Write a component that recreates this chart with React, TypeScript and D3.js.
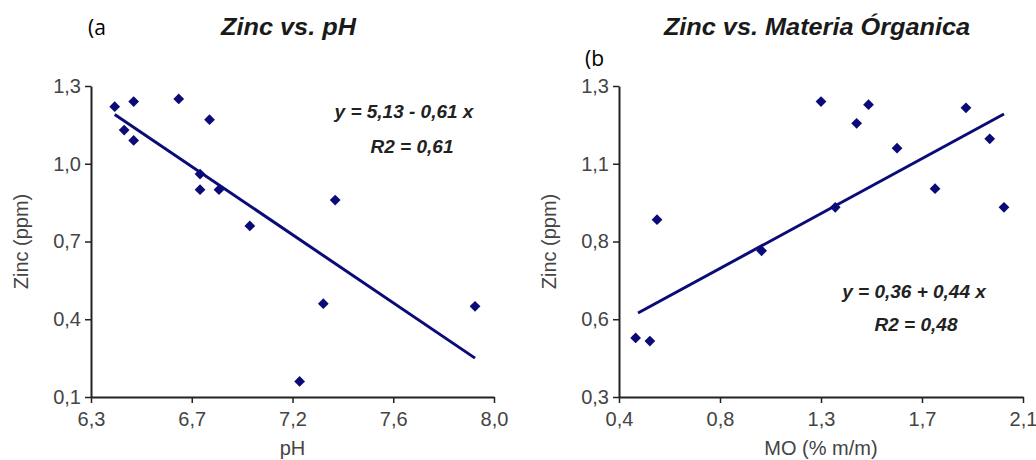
import React, { useEffect, useRef } from "react";
import * as d3 from "d3";

// panel (a): zinc vs pH
const phValues = [6.40, 6.48, 6.67, 6.80, 6.44, 6.48, 6.76, 6.76, 6.84, 6.97, 7.33, 7.28, 7.92, 7.18];
const zincByPh = [1.22, 1.24, 1.25, 1.17, 1.13, 1.09, 0.96, 0.90, 0.90, 0.76, 0.86, 0.46, 0.45, 0.16];
const phFitX = [6.40, 7.92];
const phFitY = [1.19, 0.25];
const phDomain = [6.3, 8.0];
const zincPhDomain = [0.1, 1.3];
const phTickLabels = ["6,3", "6,7", "7,2", "7,6", "8,0"];
const zincPhTickLabels = ["0,1", "0,4", "0,7", "1,0", "1,3"];

// panel (b): zinc vs materia organica
const moValues = [0.47, 0.53, 0.56, 1.00, 1.25, 1.31, 1.40, 1.45, 1.57, 1.73, 1.86, 1.96, 2.02];
const zincByMo = [0.49, 0.48, 0.87, 0.77, 1.25, 0.91, 1.18, 1.24, 1.10, 0.97, 1.23, 1.13, 0.91];
const moFitX = [0.48, 2.02];
const moFitY = [0.57, 1.21];
const moDomain = [0.4, 2.1];
const zincMoDomain = [0.3, 1.3];
const moTickLabels = ["0,4", "0,8", "1,3", "1,7", "2,1"];
const zincMoTickLabels = ["0,3", "0,6", "0,8", "1,1", "1,3"];

const NAVY = "#0b0b78";
const FONT = "'Liberation Sans', Arial, sans-serif";

const evenTicks = (dom: number[], n: number) =>
  d3.range(n).map(i => dom[0] + (i * (dom[1] - dom[0])) / (n - 1));

const App = () => {
  const ref = useRef<SVGSVGElement>(null);

  useEffect(() => {
    const svg = d3.select(ref.current);
    svg.selectAll("*").remove();

    const panels = [
      {
        xs: phValues, ys: zincByPh, fx: phFitX, fy: phFitY,
        xDom: phDomain, yDom: zincPhDomain,
        xLabels: phTickLabels, yLabels: zincPhTickLabels,
        xRange: [91, 494], yRange: [397, 86],
        xTitle: "pH", title: "Zinc vs. pH", tag: "(a", tagPos: [88, 35],
        eq: ["y = 5,13 - 0,61 x", "R2 = 0,61"], eqPos: [[404, 118], [412, 153]],
      },
      {
        xs: moValues, ys: zincByMo, fx: moFitX, fy: moFitY,
        xDom: moDomain, yDom: zincMoDomain,
        xLabels: moTickLabels, yLabels: zincMoTickLabels,
        xRange: [619, 1023], yRange: [397, 86],
        xTitle: "MO (% m/m)", title: "Zinc vs. Materia Órganica", tag: "(b", tagPos: [585, 66],
        eq: ["y = 0,36 + 0,44 x", "R2 = 0,48"], eqPos: [[914, 298], [916, 331]],
      },
    ];

    panels.forEach(p => {
      const x = d3.scaleLinear().domain(p.xDom).range(p.xRange);
      const y = d3.scaleLinear().domain(p.yDom).range(p.yRange);
      const g = svg.append("g");

      // axes
      const xAxis = g.append("g")
        .attr("transform", `translate(0,${p.yRange[0]})`)
        .call(d3.axisBottom(x)
          .tickValues(evenTicks(p.xDom, 5))
          .tickFormat((d, i) => p.xLabels[i])
          .tickSize(6).tickSizeOuter(0).tickPadding(9));
      const yAxis = g.append("g")
        .attr("transform", `translate(${p.xRange[0]},0)`)
        .call(d3.axisLeft(y)
          .tickValues(evenTicks(p.yDom, 5))
          .tickFormat((d, i) => p.yLabels[i])
          .tickSize(6).tickSizeOuter(0).tickPadding(4));
      [xAxis, yAxis].forEach(a => {
        a.select(".domain").attr("stroke", "#222").attr("stroke-width", 2);
        a.selectAll(".tick line").attr("stroke", "#222").attr("stroke-width", 1.5);
        a.selectAll(".tick text")
          .attr("fill", "#444")
          .style("font-family", FONT)
          .style("font-size", "20px");
      });

      // axis titles
      g.append("text")
        .attr("x", (p.xRange[0] + p.xRange[1]) / 2)
        .attr("y", 455)
        .attr("text-anchor", "middle")
        .attr("fill", "#444")
        .style("font-family", FONT)
        .style("font-size", "20px")
        .text(p.xTitle);
      g.append("text")
        .attr("transform", `translate(${p.xRange[0] - 63},${(p.yRange[0] + p.yRange[1]) / 2}) rotate(-90)`)
        .attr("text-anchor", "middle")
        .attr("fill", "#444")
        .style("font-family", FONT)
        .style("font-size", "20px")
        .text("Zinc (ppm)");

      // fit line
      g.append("path")
        .datum(d3.zip(p.fx, p.fy))
        .attr("d", d3.line().x(d => x(d[0])).y(d => y(d[1])))
        .attr("fill", "none")
        .attr("stroke", NAVY)
        .attr("stroke-width", 3);

      // points
      g.selectAll("path.pt")
        .data(d3.zip(p.xs, p.ys))
        .enter()
        .append("path")
        .attr("class", "pt")
        .attr("d", d3.symbol(d3.symbolSquare, 58))
        .attr("transform", d => `translate(${x(d[0])},${y(d[1])}) rotate(45)`)
        .attr("fill", NAVY);

      // title and tag
      const tb = (p.xRange[0] + p.xRange[1]) / 2;
      g.append("text")
        .attr("transform", `translate(${tb - 4},35) scale(1.1,1)`)
        .attr("text-anchor", "middle")
        .attr("fill", "#1a1a1a")
        .style("font-family", FONT)
        .style("font-size", "23px")
        .style("font-weight", "bold")
        .style("font-style", "italic")
        .text(p.title);
      g.append("text")
        .attr("x", p.tagPos[0])
        .attr("y", p.tagPos[1])
        .attr("fill", "#000")
        .style("font-family", "'Open Sans', sans-serif")
        .style("font-size", "21px")
        .text(p.tag);

      // regression equation
      p.eq.forEach((t, i) => {
        g.append("text")
          .attr("x", p.eqPos[i][0])
          .attr("y", p.eqPos[i][1])
          .attr("text-anchor", "middle")
          .attr("fill", "#222")
          .style("font-family", FONT)
          .style("font-size", "19px")
          .style("font-weight", "bold")
          .style("font-style", "italic")
          .text(t);
      });
    });
  }, []);

  return (
    <svg
      ref={ref}
      width={1036}
      height={460}
      style={{ position: "absolute", left: 0, top: 0, background: "#fff" }}
    />
  );
};

export default App;
